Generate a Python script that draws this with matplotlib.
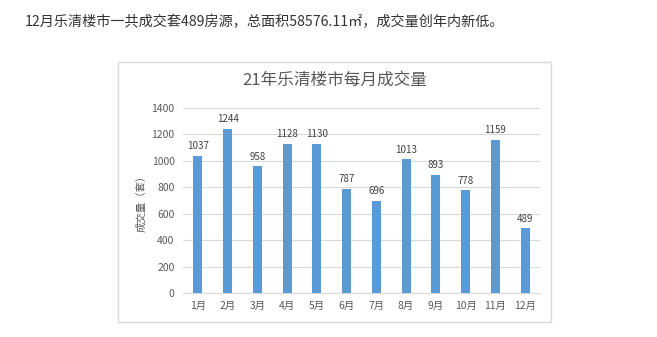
import matplotlib.pyplot as plt
from matplotlib.patches import Rectangle

plt.rcParams['font.family'] = ['Noto Sans CJK SC', 'DejaVu Sans']

months = ['1月', '2月', '3月', '4月', '5月', '6月', '7月', '8月', '9月', '10月', '11月', '12月']
volumes = [1037, 1244, 958, 1128, 1130, 787, 696, 1013, 893, 778, 1159, 489]
y_ticks = [0, 200, 400, 600, 800, 1000, 1200, 1400]

W, H = 657, 337
fig = plt.figure(figsize=(W / 100, H / 100), dpi=100)

# header sentence above the chart
fig.text(25 / W, 1 - 22 / H, '12月乐清楼市一共成交套489房源，总面积58576.11㎡，成交量创年内新低。',
         fontsize=10.2, color='#333333', va='center', ha='left')

# chart border
fig.patches.append(Rectangle((118 / W, 1 - 322 / H), (551 - 118) / W, (322 - 62) / H,
                             transform=fig.transFigure, fill=False, edgecolor='#d9d9d9', linewidth=1))

fig.text(335 / W, 1 - 80 / H, '21年乐清楼市每月成交量', fontsize=12, color='#595959',
         ha='center', va='center')

ax = fig.add_axes([183 / W, 1 - 293 / H, (540 - 183) / W, (293 - 108) / H])
x = range(len(months))
ax.bar(x, volumes, width=0.3, color='#5b9bd5', zorder=3)
for xi, v in zip(x, volumes):
    ax.text(xi, v + 35, str(v), ha='center', va='bottom', fontsize=7, color='#404040')

ax.set_ylim(0, 1400)
ax.set_xlim(-0.5, len(months) - 0.5)
ax.set_yticks(y_ticks)
ax.set_xticks(list(x))
ax.set_xticklabels(months)
ax.tick_params(axis='both', length=0, labelsize=7.5, colors='#595959')
ax.tick_params(axis='x', pad=6)
ax.tick_params(axis='y', pad=6)
ax.yaxis.grid(True, color='#d9d9d9', linewidth=0.8, zorder=0)
for s in ['top', 'right', 'left']:
    ax.spines[s].set_visible(False)
ax.spines['bottom'].set_color('#d9d9d9')
ax.set_ylabel('成交量（套）', fontsize=7.5, color='#595959', labelpad=4)

fig.savefig('out.png', dpi=100)
